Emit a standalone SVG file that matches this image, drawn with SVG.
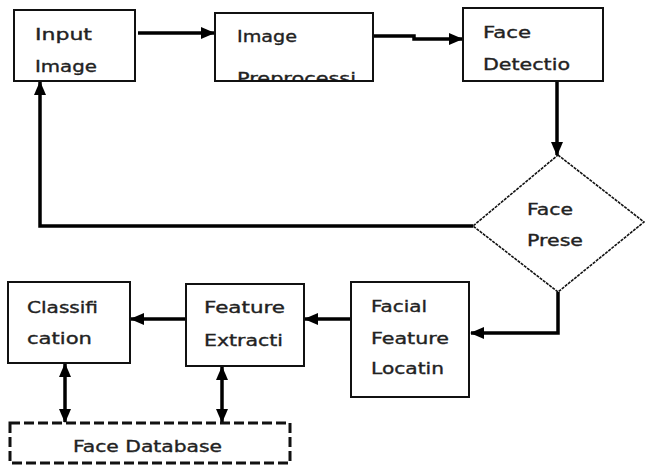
<svg xmlns="http://www.w3.org/2000/svg" width="645" height="467" viewBox="0 0 645 467">
<defs>
<style>
.box{fill:#fff;stroke:#111;stroke-width:2}
.dia{fill:#fff;stroke:#111;stroke-width:1.6;stroke-dasharray:3 1}
.db{fill:#fff;stroke:#111;stroke-width:3;stroke-dasharray:10 4}
.t{font-family:"DejaVu Sans","Verdana",sans-serif;font-size:16px;fill:#222;stroke:#222;stroke-width:0.35}
.c{fill:none;stroke:#000;stroke-width:3.5}
.c1{marker-end:url(#ah)}
.c2{marker-end:url(#ah);marker-start:url(#ah)}
</style>
<marker id="ah" markerUnits="userSpaceOnUse" markerWidth="14" markerHeight="12" refX="13" refY="6" orient="auto-start-reverse" viewBox="0 0 14 12">
<path d="M0,0 L14,6 L0,12 z" fill="#000"/>
</marker>
<clipPath id="clipPre"><rect x="216" y="14" width="156" height="66"/></clipPath>
</defs>
<rect width="645" height="467" fill="#fff"/>

<g id="connectors">
<path class="c c1" d="M138,33 L214,33"/>
<path class="c c1" d="M373,36 L414,36 L414,39 L462,39"/>
<path class="c c1" d="M557,81 L557,155"/>
<path class="c c1" d="M473,226 L40,226 L40,82"/>
<path class="c c1" d="M558,292 L558,333 L471,333"/>
<path class="c c1" d="M351,319 L305,319"/>
<path class="c c1" d="M186,319 L131,319"/>
<path class="c c2" d="M65,364 L65,422"/>
<path class="c c2" d="M222,367 L222,422"/>
</g>

<g id="input-image">
<rect class="box" x="14" y="10" width="121" height="71"/>
<text class="t" x="35" y="40" textLength="57" lengthAdjust="spacingAndGlyphs">Input</text>
<text class="t" x="35" y="72" textLength="62" lengthAdjust="spacingAndGlyphs">Image</text>
</g>

<g id="image-preprocessing">
<rect class="box" x="215" y="13" width="158" height="68"/>
<text class="t" x="237" y="42" textLength="60" lengthAdjust="spacingAndGlyphs">Image</text>
<text class="t" x="237" y="84" textLength="119" lengthAdjust="spacingAndGlyphs" clip-path="url(#clipPre)">Preprocessi</text>
</g>

<g id="face-detection">
<rect class="box" x="463" y="8" width="140" height="73"/>
<text class="t" x="483" y="38" textLength="48" lengthAdjust="spacingAndGlyphs">Face</text>
<text class="t" x="483" y="70" textLength="87" lengthAdjust="spacingAndGlyphs">Detectio</text>
</g>

<g id="face-present">
<polygon class="dia" points="558,155 644,222 558,292 473,226"/>
<text class="t" x="527" y="215" textLength="46" lengthAdjust="spacingAndGlyphs">Face</text>
<text class="t" x="527" y="246" textLength="56" lengthAdjust="spacingAndGlyphs">Prese</text>
</g>

<g id="facial-feature-location">
<rect class="box" x="351" y="282" width="118" height="115"/>
<text class="t" x="371" y="312" textLength="56" lengthAdjust="spacingAndGlyphs">Facial</text>
<text class="t" x="371" y="344" textLength="78" lengthAdjust="spacingAndGlyphs">Feature</text>
<text class="t" x="371" y="374" textLength="73" lengthAdjust="spacingAndGlyphs">Locatin</text>
</g>

<g id="feature-extraction">
<rect class="box" x="186" y="284" width="118" height="82"/>
<text class="t" x="204" y="313" textLength="81" lengthAdjust="spacingAndGlyphs">Feature</text>
<text class="t" x="204" y="346" textLength="79" lengthAdjust="spacingAndGlyphs">Extracti</text>
</g>

<g id="classification">
<rect class="box" x="8" y="282" width="122" height="81"/>
<text class="t" x="27" y="313" textLength="71" lengthAdjust="spacingAndGlyphs">Classifi</text>
<text class="t" x="27" y="344" textLength="65" lengthAdjust="spacingAndGlyphs">cation</text>
</g>

<g id="face-database">
<rect class="db" x="10" y="423" width="280" height="40"/>
<text class="t" x="73" y="452" textLength="149" lengthAdjust="spacingAndGlyphs">Face Database</text>
</g>
</svg>
